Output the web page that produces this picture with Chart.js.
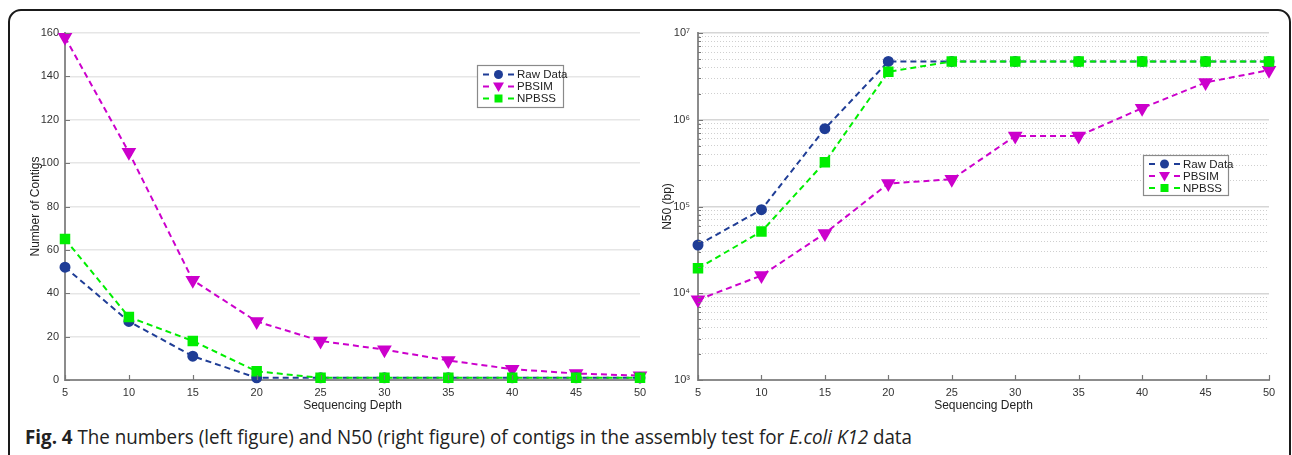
<!DOCTYPE html>
<html><head><meta charset="utf-8">
<script src="https://cdn.jsdelivr.net/npm/chart.js@4/dist/chart.umd.min.js"></script>
<style>
html,body{margin:0;padding:0;background:#fff;width:1292px;height:455px;overflow:hidden;}
#frame{position:absolute;left:8px;top:9px;width:1283px;height:490px;border:2px solid #1a1a1a;border-radius:13px;box-sizing:border-box;}
#c1{position:absolute;left:10px;top:0;}
#c2{position:absolute;left:650px;top:0;}
#cap{position:absolute;left:25px;top:423px;font-family:"Open Sans",sans-serif;font-size:20px;line-height:27px;color:#222;white-space:nowrap;transform-origin:0 0;}
#cap b{font-weight:700;}
</style></head>
<body>
<div id="frame"></div>
<canvas id="c1" width="650" height="420"></canvas>
<canvas id="c2" width="640" height="420"></canvas>
<div id="cap"><b>Fig. 4</b> The numbers (left figure) and N50 (right figure) of contigs in the assembly test for <i>E.coli K12</i> data</div>
<script>
// ---- data ----
const depths = [5, 10, 15, 20, 25, 30, 35, 40, 45, 50];
const seriesNames = ['Raw Data', 'PBSIM', 'NPBSS'];
const contigsRaw   = [52, 27, 11, 1, 1, 1, 1, 1, 1, 1];
const contigsPBSIM = [158, 105, 46, 27, 18, 14, 9, 5, 3, 2];
const contigsNPBSS = [65, 29, 18, 4, 1, 1, 1, 1, 1, 1];
const n50Raw   = [36000, 92000, 790000, 4700000, 4700000, 4700000, 4700000, 4700000, 4700000, 4700000];
const n50PBSIM = [8400, 16000, 49000, 184000, 206000, 650000, 650000, 1360000, 2690000, 3730000];
const n50NPBSS = [19400, 51400, 324000, 3570000, 4700000, 4700000, 4700000, 4700000, 4700000, 4700000];
const leftYTicks = [0, 20, 40, 60, 80, 100, 120, 140, 160];
const rightYDecades = [1e3, 1e4, 1e5, 1e6, 1e7];
const rightYTickLabels = ['10\u00B3', '10\u2074', '10\u2075', '10\u2076', '10\u2077'];
const leftTitles = {x: 'Sequencing Depth', y: 'Number of Contigs'};
const rightTitles = {x: 'Sequencing Depth', y: 'N50 (bp)'};

// ---- styles ----
const COLORS = ['#1f3d96', '#cc00cc', '#00ee00'];
const FONT = '"Liberation Sans", Arial, sans-serif';
const toXY = arr => arr.map((v, i) => ({x: depths[i], y: v}));
const isDecade = v => Math.abs(Math.log10(v) - Math.round(Math.log10(v))) < 1e-9;

function makeDatasets(a, b, c) {
  const base = (i, data) => ({
    label: seriesNames[i], data: toXY(data),
    borderColor: COLORS[i], backgroundColor: COLORS[i],
    pointBackgroundColor: COLORS[i], pointBorderColor: COLORS[i],
    borderWidth: 2, borderDash: [6, 4], clip: false, tension: 0,
  });
  return [
    Object.assign(base(0, a), {pointStyle: 'circle', pointRadius: 4.5, order: 1}),
    Object.assign(base(1, b), {pointStyle: 'triangle', pointRotation: 180, pointRadius: 6.5, order: 2}),
    Object.assign(base(2, c), {pointStyle: 'rect', pointRadius: 6, order: 0}),
  ];
}

// inward tick marks on the axes (MATLAB style)
const inTicks = {
  id: 'inTicks',
  afterDatasetsDraw(chart) {
    const {ctx, chartArea: ca, scales: {x, y}} = chart;
    ctx.save();
    ctx.strokeStyle = '#777'; ctx.lineWidth = 1.2; ctx.setLineDash([]);
    ctx.beginPath();
    x.ticks.forEach(t => { const px = Math.round(x.getPixelForValue(t.value)) + 0.5; ctx.moveTo(px, ca.bottom); ctx.lineTo(px, ca.bottom - 5); });
    y.ticks.forEach(t => {
      const py = Math.round(y.getPixelForValue(t.value)) + 0.5;
      const len = (y.type === 'logarithmic' && !isDecade(t.value)) ? 3 : 5;
      ctx.moveTo(ca.left, py); ctx.lineTo(ca.left + len, py);
    });
    ctx.stroke();
    ctx.restore();
  }
};

const boxLegend = {
  id: 'boxLegend',
  afterDraw(chart, args, o) {
    const ctx = chart.ctx;
    ctx.save();
    ctx.fillStyle = '#fff';
    ctx.fillRect(o.x, o.y, o.w, o.h);
    ctx.strokeStyle = '#8a8a8a'; ctx.lineWidth = 1.2;
    ctx.strokeRect(o.x + 0.5, o.y + 0.5, o.w, o.h);
    chart.data.datasets.forEach((ds, i) => {
      const cy = o.y + o.top + i * o.rowH;
      ctx.strokeStyle = ds.borderColor; ctx.fillStyle = ds.borderColor;
      ctx.lineWidth = 2; ctx.setLineDash([]);
      ctx.beginPath();
      ctx.moveTo(o.x + 6, cy); ctx.lineTo(o.x + 12, cy);
      ctx.moveTo(o.x + 31, cy); ctx.lineTo(o.x + 37, cy);
      ctx.stroke();
      const mx = o.x + 21.5;
      ctx.beginPath();
      if (ds.pointStyle === 'circle') { ctx.arc(mx, cy, 4.5, 0, Math.PI * 2); }
      else if (ds.pointStyle === 'triangle') { ctx.moveTo(mx - 5.5, cy - 4); ctx.lineTo(mx + 5.5, cy - 4); ctx.lineTo(mx, cy + 5.5); ctx.closePath(); }
      else { ctx.rect(mx - 4, cy - 4, 8, 8); }
      ctx.fill();
      ctx.fillStyle = '#222'; ctx.font = '11.5px ' + FONT; ctx.textBaseline = 'middle';
      ctx.fillText(ds.label, o.x + 40, cy + 0.5);
    });
    ctx.restore();
  }
};

const commonX = (titles, titlePad) => ({
  type: 'linear', min: 5, max: 50,
  afterBuildTicks: s => { s.ticks = depths.map(v => ({value: v})); },
  afterFit: s => { s.height = 40; },
  grid: {drawOnChartArea: false, drawTicks: false},
  border: {display: true, color: '#8c8c8c', width: 2},
  ticks: {padding: 6, color: '#333', font: {family: FONT, size: 11}, autoSkip: false, maxRotation: 0},
  title: {display: true, text: titles.x, color: '#222', font: {family: FONT, size: 12}, padding: {top: 0, bottom: titlePad}}
});

new Chart(document.getElementById('c1'), {
  type: 'line',
  data: {datasets: makeDatasets(contigsRaw, contigsPBSIM, contigsNPBSS)},
  options: {
    responsive: false, animation: false, events: [],
    layout: {padding: {top: 33, right: 20, bottom: 0, left: 0}},
    plugins: {legend: {display: false}, tooltip: {enabled: false},
      boxLegend: {x: 467, y: 65, w: 86, h: 42, top: 9.5, rowH: 12}},
    scales: {
      x: commonX(leftTitles, 7),
      y: {
        type: 'linear', min: 0, max: 160,
        afterBuildTicks: s => { s.ticks = leftYTicks.map(v => ({value: v})); },
        afterFit: s => { s.width = 55; },
        grid: {color: '#e6e6e6', lineWidth: 1.5, drawTicks: false},
        border: {display: true, color: '#8c8c8c', width: 2},
        ticks: {padding: 6, color: '#333', font: {family: FONT, size: 11}, autoSkip: false},
        title: {display: true, text: leftTitles.y, color: '#222', font: {family: FONT, size: 12}, padding: {top: 18, bottom: 0}}
      }
    }
  },
  plugins: [inTicks, boxLegend]
});

new Chart(document.getElementById('c2'), {
  type: 'line',
  data: {datasets: makeDatasets(n50Raw, n50PBSIM, n50NPBSS)},
  options: {
    responsive: false, animation: false, events: [],
    layout: {padding: {top: 33, right: 21, bottom: 0, left: 0}},
    plugins: {legend: {display: false}, tooltip: {enabled: false},
      boxLegend: {x: 493, y: 155, w: 85, h: 40, top: 9, rowH: 12}},
    scales: {
      x: commonX(rightTitles, 7),
      y: {
        type: 'logarithmic', min: 1e3, max: 1e7,
        afterBuildTicks: s => {
          const t = [];
          rightYDecades.forEach((d, k) => {
            if (k === rightYDecades.length - 1) { t.push({value: d}); return; }
            for (let m = 1; m <= 9; m++) t.push({value: d * m});
          });
          s.ticks = t;
        },
        afterFit: s => { s.width = 48; },
        grid: {
          color: c => (c.tick && isDecade(c.tick.value)) ? '#d6d6d6' : '#cfcfcf',
          lineWidth: c => (c.tick && isDecade(c.tick.value)) ? 1.5 : 1,
          drawTicks: false
        },
        border: {display: true, color: '#8c8c8c', width: 2,
          dash: c => (c.tick && !isDecade(c.tick.value)) ? [1, 2] : []},
        ticks: {
          padding: 8, color: '#333', font: {family: FONT, size: 11}, autoSkip: false,
          callback: v => { const k = rightYDecades.findIndex(d => Math.abs(d - v) < 1e-6 * d); return k >= 0 ? rightYTickLabels[k] : ''; }
        },
        title: {display: true, text: rightTitles.y, color: '#222', font: {family: FONT, size: 12}, padding: {top: 10, bottom: 0}}
      }
    }
  },
  plugins: [inTicks, boxLegend]
});

// fit caption width to the reference (x 25 .. 912)
const cap = document.getElementById('cap');
const w = cap.getBoundingClientRect().width;
cap.style.transform = 'scaleX(' + (887 / w) + ')';
</script>
</body></html>
